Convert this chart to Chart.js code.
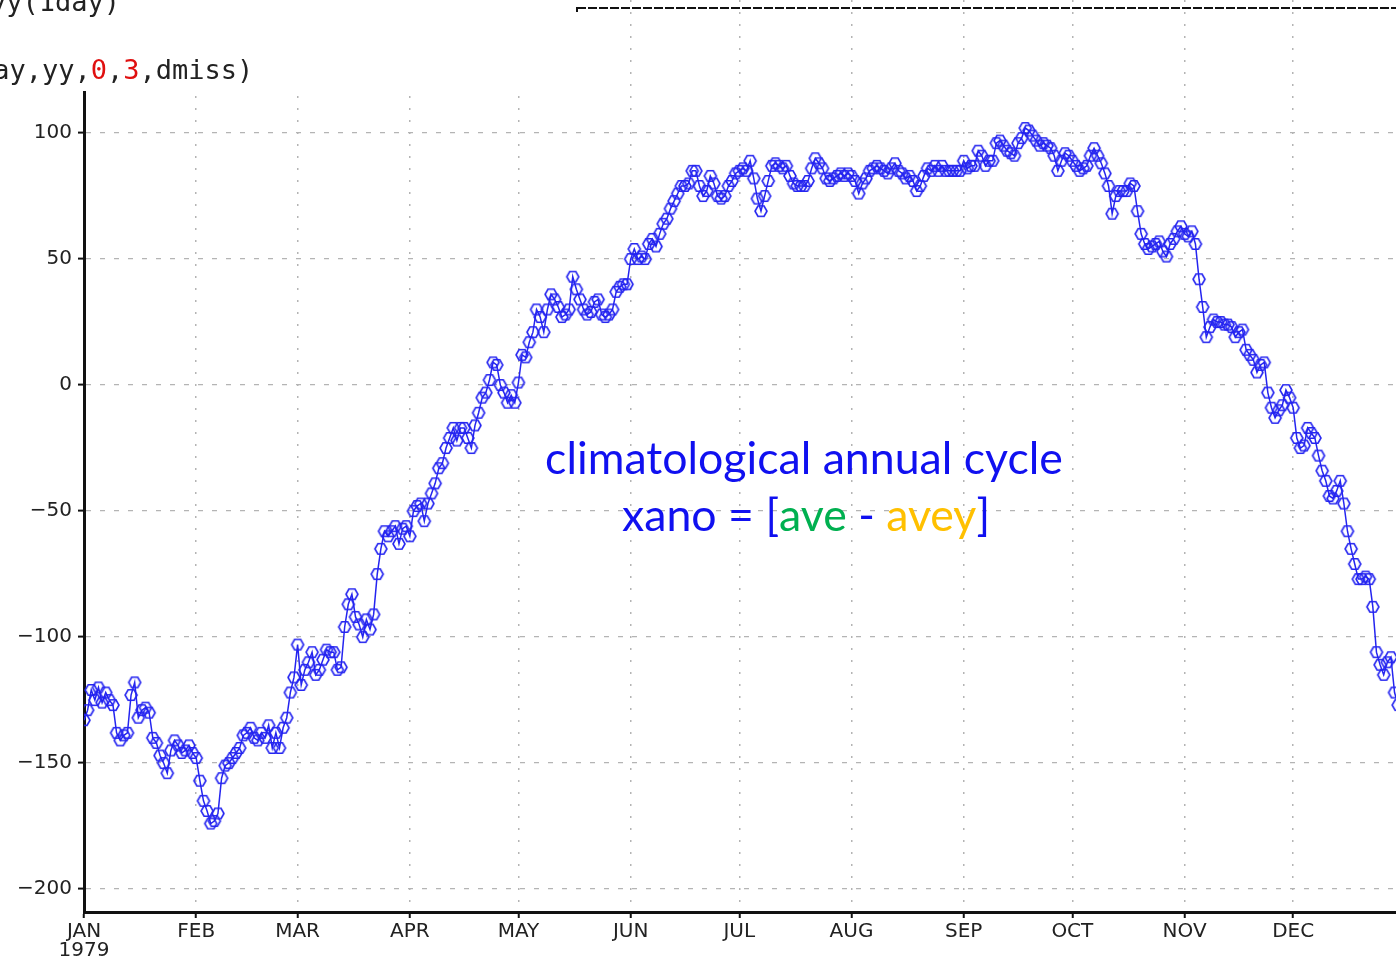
<!DOCTYPE html>
<html>
<head>
<meta charset="utf-8">
<script src="https://cdn.jsdelivr.net/npm/chart.js@4.4.1/dist/chart.umd.min.js"></script>
<style>
  html, body { margin: 0; padding: 0; background: #fff; overflow: hidden; }
  #wrap { width: 1396px; height: 961px; position: relative; }
</style>
</head>
<body>
<div id="wrap"><canvas id="chart" width="1396" height="961"></canvas></div>
<script>
// month ticks on the time axis (day of year)
const monthLabels = ['JAN', 'FEB', 'MAR', 'APR', 'MAY', 'JUN', 'JUL', 'AUG', 'SEP', 'OCT', 'NOV', 'DEC'];
const monthStartDays = [0, 31, 59, 90, 120, 151, 181, 212, 243, 273, 304, 334];
const yearLabel = '1979';
const yTickValues = [-200, -150, -100, -50, 0, 50, 100];

// daily climatological anomaly (day 0 = 1 Jan)
const xano = [
  -133, -129, -121, -125, -120, -126, -122, -125, -127, -138,
  -141, -139, -138, -123, -118, -132, -129, -128, -130, -140,
  -142, -147, -150, -154, -145, -141, -143, -146, -145, -143,
  -146, -148, -157, -165, -169, -174, -173, -170, -156, -151,
  -150, -148, -146, -144, -139, -138, -136, -140, -141, -138,
  -140, -135, -144, -138, -144, -136, -132, -122, -116, -103,
  -119, -113, -110, -106, -115, -113, -109, -105, -106, -106,
  -113, -112, -96, -87, -83, -92, -95, -100, -93, -97,
  -91, -75, -65, -58, -60, -58, -56, -63, -57, -56,
  -60, -50, -48, -47, -54, -47, -43, -39, -33, -31,
  -25, -21, -17, -22, -17, -17, -21, -25, -16, -11,
  -5, -3, 2, 9, 8, 0, -3, -7, -4, -7,
  1, 12, 11, 17, 21, 30, 27, 21, 30, 36,
  34, 31, 27, 28, 30, 43, 38, 34, 30, 28,
  29, 33, 34, 28, 27, 28, 30, 37, 39, 40,
  40, 50, 54, 50, 51, 50, 56, 58, 55, 60,
  64, 66, 70, 73, 76, 79, 79, 80, 85, 85,
  79, 75, 77, 83, 80, 75, 74, 75, 79, 81,
  84, 85, 86, 85, 89, 82, 74, 69, 75, 81,
  87, 88, 87, 86, 87, 83, 80, 79, 79, 79,
  81, 86, 90, 88, 86, 82, 81, 82, 83, 84,
  83, 84, 83, 81, 76, 80, 82, 85, 86, 87,
  86, 85, 84, 86, 88, 85, 84, 82, 83, 81,
  77, 79, 83, 86, 85, 87, 85, 87, 85, 85,
  85, 85, 85, 89, 86, 87, 87, 93, 91, 87,
  89, 89, 96, 97, 95, 93, 92, 91, 96, 98,
  102, 101, 99, 97, 95, 96, 95, 94, 91, 85,
  89, 92, 91, 89, 87, 85, 86, 87, 91, 94,
  91, 88, 84, 79, 68, 75, 77, 77, 77, 80,
  79, 69, 60, 56, 54, 55, 56, 57, 53, 51,
  56, 58, 61, 63, 60, 59, 61, 56, 42, 31,
  19, 23, 26, 25, 25, 24, 24, 23, 19, 21,
  22, 14, 12, 10, 5, 8, 9, -3, -9, -13,
  -10, -8, -2, -5, -9, -21, -25, -24, -17, -19,
  -21, -28, -34, -38, -44, -45, -42, -38, -47, -58,
  -65, -71, -77, -77, -76, -77, -88, -106, -111, -115,
  -110, -108, -122, -127, -131
];

const blue = '#2424f0';

// open hexagon marker like the GrADS one
function hexMarker(r, color, lw) {
  const c = document.createElement('canvas');
  const s = Math.ceil(2 * r + lw + 2);
  c.width = s; c.height = s;
  const g = c.getContext('2d');
  g.strokeStyle = color;
  g.lineWidth = lw;
  g.beginPath();
  for (let k = 0; k < 6; k++) {
    const a = Math.PI / 3 * k;
    const px = s / 2 + r * Math.cos(a), py = s / 2 + r * Math.sin(a);
    if (k === 0) g.moveTo(px, py); else g.lineTo(px, py);
  }
  g.closePath();
  g.stroke();
  return c;
}

// chart.js reserves room for half of the end labels; the plot here runs edge to edge
function noPadding(scale) {
  scale.paddingTop = 0;
  scale.paddingBottom = 0;
  scale.paddingLeft = 0;
  scale.paddingRight = 0;
}

const overlay = {
  id: 'overlay',
  afterDraw(chart) {
    const ctx = chart.ctx;
    ctx.save();
    // console window text at the top left
    ctx.fillStyle = '#fff';
    ctx.fillRect(0, 0, 577, 91);
    ctx.font = '27px "DejaVu Sans Mono"';
    ctx.textBaseline = 'alphabetic';
    ctx.textAlign = 'left';
    ctx.fillStyle = '#222';
    ctx.fillText('yy(1day)', -10, 11);
    const parts = [['day,yy,', '#222'], ['0', '#e01010'], [',', '#222'], ['3', '#e01010'], [',dmiss)', '#222']];
    let x = -23;
    for (const [t, c] of parts) {
      ctx.fillStyle = c;
      ctx.fillText(t, x, 79);
      x += ctx.measureText(t).width;
    }
    // window border at top right
    ctx.strokeStyle = '#111';
    ctx.lineWidth = 2;
    ctx.setLineDash([9, 2]);
    ctx.beginPath();
    ctx.moveTo(577, 8);
    ctx.lineTo(1396, 8);
    ctx.stroke();
    ctx.setLineDash([]);
    ctx.beginPath();
    ctx.moveTo(577, 7);
    ctx.lineTo(577, 12);
    ctx.stroke();

    // annotation
    const line1 = 'climatological annual cycle';
    ctx.font = '40px Lato';
    const size = 40 * 518 / ctx.measureText(line1).width;
    ctx.font = size + 'px Lato';
    ctx.textAlign = 'center';
    ctx.fillStyle = '#1010f0';
    ctx.fillText(line1, 804, 474);
    const segs = [['xano = [', '#1010f0'], ['ave', '#00b050'], [' - ', '#1010f0'], ['avey', '#ffc000'], [']', '#1010f0']];
    const total = segs.reduce((s, p) => s + ctx.measureText(p[0]).width, 0);
    ctx.textAlign = 'left';
    let sx = 806 - total / 2;
    for (const [t, c] of segs) {
      ctx.fillStyle = c;
      ctx.fillText(t, sx, 531);
      sx += ctx.measureText(t).width;
    }
    ctx.restore();
  }
};

new Chart(document.getElementById('chart'), {
  type: 'line',
  data: {
    datasets: [{
      data: xano.map((v, i) => ({ x: i, y: v })),
      borderColor: blue,
      borderWidth: 1.5,
      pointStyle: hexMarker(6, blue, 1.6),
      pointRadius: 6,
      tension: 0,
      fill: false
    }]
  },
  options: {
    responsive: false,
    animation: false,
    devicePixelRatio: 1,
    layout: { padding: 0, autoPadding: false },
    plugins: { legend: { display: false }, tooltip: { enabled: false } },
    scales: {
      x: {
        type: 'linear',
        min: 0,
        max: 362.4,
        afterFit(scale) { scale.height = 49; noPadding(scale); },
        afterBuildTicks(scale) { scale.ticks = monthStartDays.map(v => ({ value: v })); },
        grid: { color: '#b4b4b4', lineWidth: 1.5, tickColor: '#111', tickWidth: 2, tickLength: 6 },
        border: { display: true, color: '#111', width: 3, dash: [2, 10] },
        ticks: {
          autoSkip: false,
          maxRotation: 0,
          padding: 4,
          color: '#222',
          font: { family: 'DejaVu Sans', size: 20, lineHeight: 0.95 },
          callback(value, index) { return index === 0 ? [monthLabels[0], yearLabel] : monthLabels[index]; }
        }
      },
      y: {
        min: -209.1,
        max: 152.8,
        afterFit(scale) { scale.width = 84; noPadding(scale); },
        afterBuildTicks(scale) { scale.ticks = yTickValues.map(v => ({ value: v })); },
        grid: { color: '#b4b4b4', lineWidth: 1.2, tickColor: '#111', tickWidth: 2, tickLength: 6 },
        border: { display: true, color: '#111', width: 3, dash: [5, 9] },
        ticks: {
          padding: 6,
          color: '#222',
          font: { family: 'DejaVu Sans', size: 20 },
          callback(value) { return value < 0 ? '\u2212' + Math.abs(value) : String(value); }
        }
      }
    }
  },
  plugins: [overlay]
});
</script>
</body>
</html>
